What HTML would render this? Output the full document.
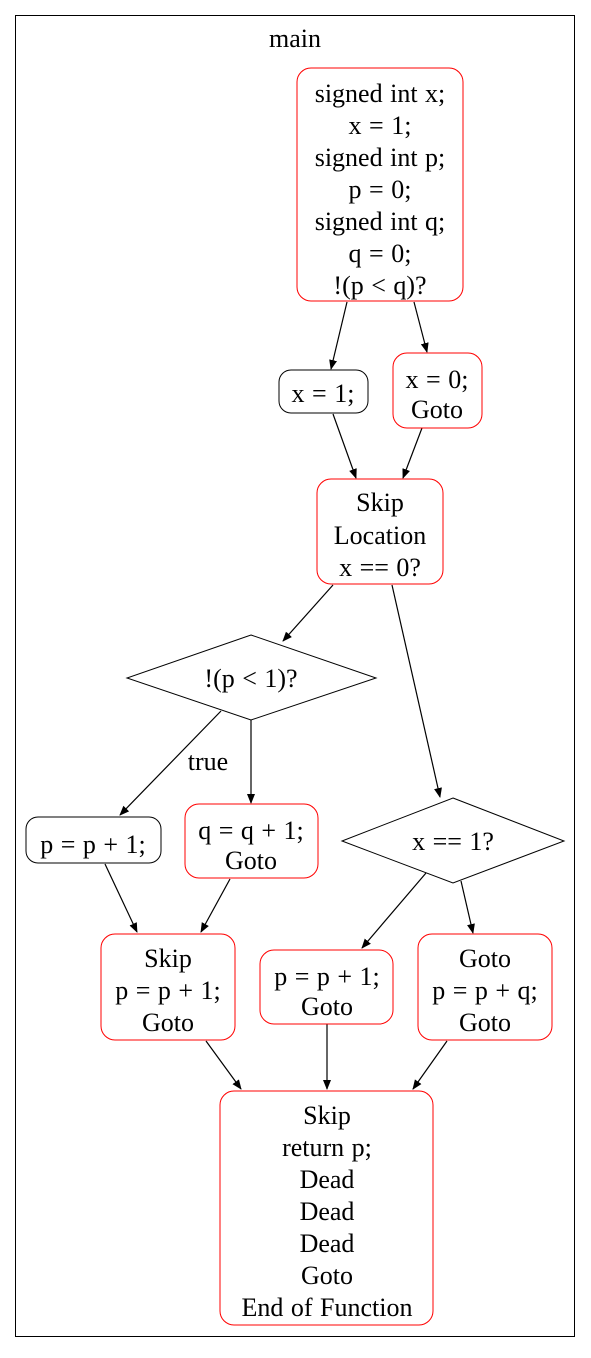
<!DOCTYPE html>
<html><head><meta charset="utf-8"><style>
html,body{margin:0;padding:0;background:#fff}
svg text{font-family:"Liberation Serif",serif;font-size:26px;word-spacing:1px;fill:#000}
</style></head><body>
<svg width="591" height="1353" viewBox="0 0 591 1353" xmlns="http://www.w3.org/2000/svg">
<defs><marker id="ah" markerWidth="10" markerHeight="10" refX="9" refY="5" orient="auto" markerUnits="userSpaceOnUse"><path d="M0,1 L10,5 L0,9 Z" fill="#000"/></marker></defs>
<rect x="15.5" y="15.5" width="559" height="1321" fill="none" stroke="#000"/>
<text x="295" y="47" text-anchor="middle">main</text>
<g fill="none" stroke="#000" stroke-width="1.2" marker-end="url(#ah)">
<line x1="347" y1="302" x2="331" y2="369"/>
<line x1="414" y1="302" x2="427" y2="352"/>
<line x1="333" y1="414" x2="356" y2="478"/>
<line x1="422" y1="428" x2="403" y2="478"/>
<line x1="333" y1="585" x2="283" y2="641"/>
<line x1="392" y1="585" x2="440" y2="797"/>
<line x1="221" y1="711" x2="120" y2="815"/>
<line x1="251" y1="720" x2="251" y2="803"/>
<line x1="426" y1="873" x2="362" y2="948"/>
<line x1="461" y1="881" x2="473" y2="933"/>
<line x1="105" y1="864" x2="137" y2="932"/>
<line x1="230" y1="879" x2="201" y2="932"/>
<line x1="206" y1="1041" x2="241" y2="1089"/>
<line x1="327" y1="1024" x2="327" y2="1089"/>
<line x1="447" y1="1041" x2="413" y2="1089"/>
</g>
<text x="208" y="770" text-anchor="middle">true</text>
<g text-anchor="middle">
<g><rect x="297" y="68" width="166" height="233" rx="14" fill="none" stroke="red"/>
<text x="380" y="102">signed int x;</text><text x="380" y="134">x = 1;</text><text x="380" y="166">signed int p;</text><text x="380" y="198">p = 0;</text><text x="380" y="230">signed int q;</text><text x="380" y="262">q = 0;</text><text x="380" y="294">!(p &lt; q)?</text></g>
<g><rect x="279" y="370" width="89" height="43" rx="12" fill="none" stroke="#000"/><text x="323" y="402">x = 1;</text></g>
<g><rect x="393" y="353" width="89" height="75" rx="14" fill="none" stroke="red"/><text x="437" y="388">x = 0;</text><text x="437" y="418">Goto</text></g>
<g><rect x="317" y="479" width="126" height="105" rx="14" fill="none" stroke="red"/><text x="380" y="511">Skip</text><text x="380" y="544">Location</text><text x="380" y="576">x == 0?</text></g>
<g><polygon points="251,635 376,678 251,720 127,678" fill="none" stroke="#000"/><text x="251" y="687">!(p &lt; 1)?</text></g>
<g><rect x="26" y="817" width="135" height="46" rx="12" fill="none" stroke="#000"/><text x="93" y="853">p = p + 1;</text></g>
<g><rect x="185" y="804" width="133" height="74" rx="14" fill="none" stroke="red"/><text x="251" y="839">q = q + 1;</text><text x="251" y="869">Goto</text></g>
<g><polygon points="453,798 564,841 453,883 342,841" fill="none" stroke="#000"/><text x="453" y="850">x == 1?</text></g>
<g><rect x="101" y="934" width="134" height="106" rx="14" fill="none" stroke="red"/><text x="168" y="967">Skip</text><text x="168" y="999">p = p + 1;</text><text x="168" y="1031">Goto</text></g>
<g><rect x="260" y="950" width="133" height="74" rx="14" fill="none" stroke="red"/><text x="327" y="985">p = p + 1;</text><text x="327" y="1015">Goto</text></g>
<g><rect x="418" y="934" width="134" height="106" rx="14" fill="none" stroke="red"/><text x="485" y="967">Goto</text><text x="485" y="999">p = p + q;</text><text x="485" y="1031">Goto</text></g>
<g><rect x="220" y="1091" width="213" height="234" rx="14" fill="none" stroke="red"/>
<text x="327" y="1124">Skip</text><text x="327" y="1156">return p;</text><text x="327" y="1188">Dead</text><text x="327" y="1220">Dead</text><text x="327" y="1252">Dead</text><text x="327" y="1284">Goto</text><text x="327" y="1316">End of Function</text></g>
</g>
</svg>
</body></html>
